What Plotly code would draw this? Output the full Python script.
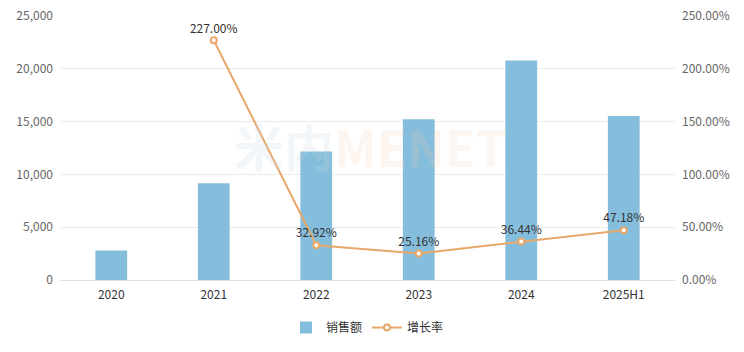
import plotly.graph_objects as go

categories = ["2020", "2021", "2022", "2023", "2024", "2025H1"]
sales = [2800, 9160, 12170, 15230, 20780, 15530]
growth = [None, 227.00, 32.92, 25.16, 36.44, 47.18]
growth_labels = ["", "227.00%", "32.92%", "25.16%", "36.44%", "47.18%"]

bar_color = "#85bedc"
line_color = "#e8a86a"
font_family = "Microsoft YaHei, Noto Sans CJK SC, sans-serif"

fig = go.Figure()
fig.add_trace(go.Bar(
    x=categories, y=sales, name="销售额",
    marker=dict(color=bar_color, line=dict(width=0)),
    width=0.31,
))
fig.add_trace(go.Scatter(
    x=categories, y=growth, name="增长率", yaxis="y2",
    mode="lines+markers+text",
    line=dict(color=line_color, width=2),
    marker=dict(symbol="circle", size=6, color="white",
                line=dict(color=line_color, width=2)),
    text=growth_labels, textposition="top center",
    textfont=dict(color="#333333", size=12),
    cliponaxis=False,
))

fig.add_annotation(
    x=0.505, y=0.51, xref="paper", yref="paper",
    text="<b><span style='color:rgba(200,215,225,0.22)'>米内</span>"
         "<span style='color:rgba(245,200,170,0.18)'>MENET</span></b>",
    showarrow=False, font=dict(size=50, family=font_family),
)

fig.update_layout(
    width=744, height=352,
    margin=dict(l=60, r=69, t=16, b=72, autoexpand=False),
    plot_bgcolor="white", paper_bgcolor="white",
    font=dict(family=font_family, size=12, color="#666666"),
    showlegend=True,
    legend=dict(orientation="h", x=0.5, xanchor="center", y=-0.18, yanchor="middle",
                font=dict(size=12, color="#333333")),
    xaxis=dict(
        type="category", showgrid=False, showline=True, linecolor="#e0e0e0",
        ticks="", tickfont=dict(size=12, color="#333333"), ticklabelstandoff=4,
    ),
    yaxis=dict(
        range=[0, 25000], dtick=5000, tickformat=",", showgrid=True,
        gridcolor="#ececec", zeroline=False, showline=False, ticks="",
        tickfont=dict(size=12, color="#666666"), ticklabelstandoff=6,
    ),
    yaxis2=dict(
        range=[0, 250], dtick=50, overlaying="y", side="right",
        showgrid=False, zeroline=False, ticksuffix="%", tickformat=".2f",
        tickfont=dict(size=12, color="#666666"), ticklabelstandoff=6,
    ),
)

fig.write_html("out.html")
